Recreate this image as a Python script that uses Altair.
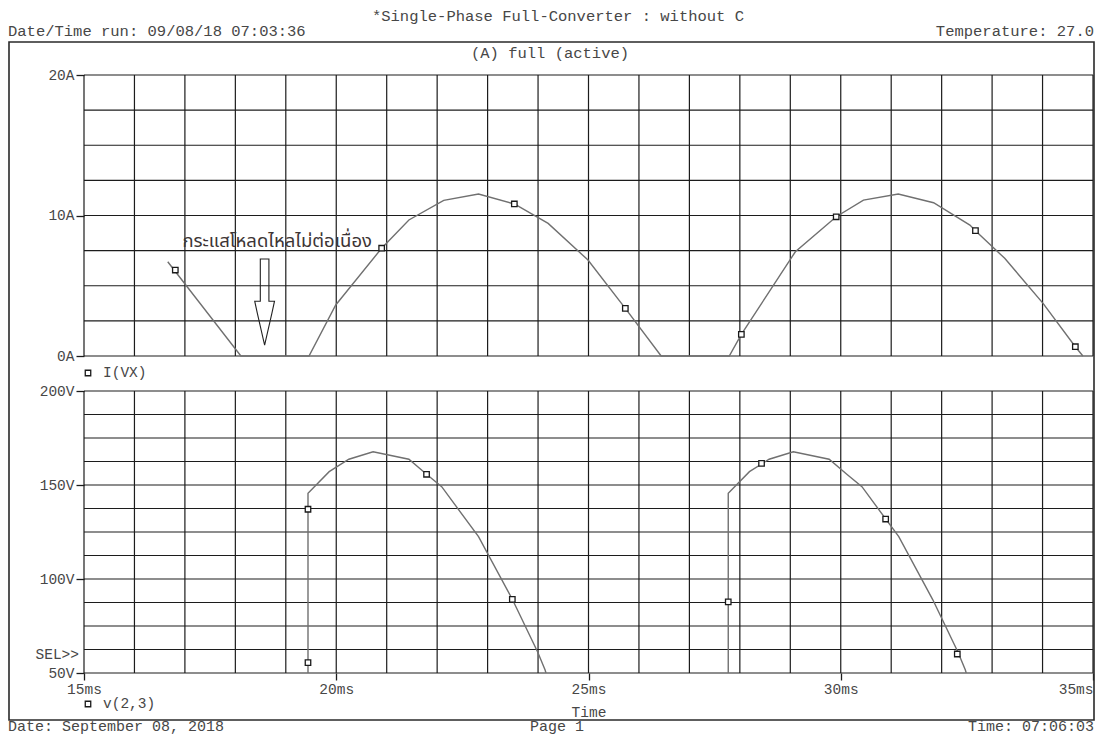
import altair as alt
import pandas as pd

# ---------------- data ----------------
# I(VX) trace, ms / A
cur_t = [16.66, 18.11, 19.46, 19.99, 20.90, 21.44, 22.13, 22.82, 23.53, 24.20, 24.99,
         25.73, 26.44, 27.79, 28.03, 29.10, 29.91, 30.45, 31.14, 31.84, 32.56, 32.67,
         33.25, 34.01, 34.65, 34.80]
cur_i = [6.71, 0.0, 0.0, 3.63, 7.67, 9.68, 11.08, 11.53, 10.82, 9.44, 6.83,
         3.39, 0.0, 0.0, 1.54, 7.42, 9.91, 11.10, 11.53, 10.91, 9.32, 8.92,
         6.95, 3.75, 0.66, 0.0]
cur_mk_t = [16.81, 20.90, 23.53, 25.73, 28.03, 29.91, 32.67, 34.65]
cur_mk_i = [6.12, 7.67, 10.82, 3.39, 1.54, 9.91, 8.92, 0.66]

# v(2,3) trace, ms / V (two visible pieces)
v_seg = [1] * 13 + [2] * 13
v_t = [19.44, 19.44, 19.86, 20.25, 20.73, 21.44, 21.79, 22.09, 22.82, 23.49, 23.99, 24.14, 24.20,
       27.77, 27.77, 28.19, 28.58, 29.06, 29.77, 30.12, 30.42, 31.15, 31.82, 32.32, 32.47, 32.53]
v_v = [40.0, 145.6, 157.1, 163.7, 167.7, 163.7, 155.7, 149.1, 122.5, 89.2, 61.3, 51.6, 46.0,
       40.0, 145.6, 157.1, 163.7, 167.7, 163.7, 155.7, 149.1, 122.5, 89.2, 61.3, 51.6, 46.0]
v_mk_t = [19.44, 19.44, 21.79, 23.49, 27.77, 28.43, 30.89, 32.31]
v_mk_v = [55.5, 137.1, 155.7, 89.2, 87.8, 161.5, 131.9, 60.1]

# grid / tick values
time_grid = [15, 16, 17, 18, 19, 20, 21, 22, 23, 24, 25, 26, 27, 28, 29, 30, 31, 32, 33, 34, 35]
time_labels = [15, 20, 25, 30, 35]
cur_grid = [0, 2.5, 5, 7.5, 10, 12.5, 15, 17.5, 20]
cur_labels = [0, 10, 20]
volt_grid = [50, 62.5, 75, 87.5, 100, 112.5, 125, 137.5, 150, 162.5, 175, 187.5, 200]
volt_labels = [50, 100, 150, 200]

# annotation (ms / A)
note_text = ["กระแสโหลดไหลไม่ต่อเนื่อง"]
note_t = [18.83]
note_i = [8.19]
arrow_t = [18.58]
arrow_i = [3.84]

# texts
title_text = "*Single-Phase Full-Converter : without C"
run_text = "Date/Time run: 09/08/18 07:03:36"
temp_text = "Temperature: 27.0"
sub_text = "(A) full (active)"
xtitle_text = "Time"
legend_cur = "I(VX)"
legend_volt = "v(2,3)"
sel_text = "SEL>>"
foot_left = "Date: September 08, 2018"
foot_mid = "Page 1"
foot_right = "Time: 07:06:03"

# ---------------- styling ----------------
W, H = 1009, 598
FONT = "Liberation Mono"
TXT = "#474747"
GRID = "#1c1c1c"
TRACE = "#707070"

df_cur = pd.DataFrame({"t": cur_t, "i": cur_i, "k": list(range(len(cur_t)))})
df_cur_mk = pd.DataFrame({"t": cur_mk_t, "i": cur_mk_i})
df_v = pd.DataFrame({"t": v_t, "v": v_v, "seg": v_seg, "k": list(range(len(v_t)))})
df_v_mk = pd.DataFrame({"t": v_mk_t, "v": v_mk_v})

df_tg_cur = pd.DataFrame({"t": time_grid, "lo": [cur_grid[0]] * len(time_grid), "hi": [cur_grid[-1]] * len(time_grid)})
df_tg_v = pd.DataFrame({"t": time_grid, "lo": [volt_grid[0]] * len(time_grid), "hi": [volt_grid[-1]] * len(time_grid)})
df_cg = pd.DataFrame({"y": cur_grid, "a": [time_grid[0]] * len(cur_grid), "b": [time_grid[-1]] * len(cur_grid)})
df_vg = pd.DataFrame({"y": volt_grid, "a": [time_grid[0]] * len(volt_grid), "b": [time_grid[-1]] * len(volt_grid)})
df_note = pd.DataFrame({"t": note_t, "i": note_i, "s": note_text})
df_arrow = pd.DataFrame({"t": arrow_t, "i": arrow_i})
one = pd.DataFrame({"z": [0]})

x_scale = alt.Scale(domain=[time_grid[0], time_grid[-1]], nice=False, zero=False)
yc_scale = alt.Scale(domain=[cur_grid[0], cur_grid[-1]], range=[281, 0], nice=False, zero=False)
yv_scale = alt.Scale(domain=[volt_grid[0], volt_grid[-1]], range=[598, 316], nice=False, zero=False)

x_axis = alt.Axis(values=time_labels, labelExpr="datum.value + 'ms'", grid=False, domain=False,
                  tickSize=7, tickColor=GRID, tickWidth=1.3, labelFont=FONT, labelFontSize=14.5,
                  labelColor=TXT, labelPadding=2, title=None, orient="bottom", labelOverlap=False,
                  labelAlign={"condition": {"test": "datum.value >= 35", "value": "right"}, "value": "center"})
yc_axis = alt.Axis(values=cur_labels, labelExpr="datum.value + 'A'", grid=False, domain=False,
                   tickSize=8, tickColor=GRID, tickWidth=1.3, labelFont=FONT, labelFontSize=14.5,
                   labelColor=TXT, labelPadding=2, title=None, orient="left", labelOverlap=False)
yv_axis = alt.Axis(values=volt_labels, labelExpr="datum.value + 'V'", grid=False, domain=False,
                   tickSize=8, tickColor=GRID, tickWidth=1.3, labelFont=FONT, labelFontSize=14.5,
                   labelColor=TXT, labelPadding=2, title=None, orient="left", labelOverlap=False)

X = lambda f: alt.X(f, type="quantitative", scale=x_scale, axis=x_axis)
YC = lambda f: alt.Y(f, type="quantitative", scale=yc_scale, axis=yc_axis)
YV = lambda f: alt.Y(f, type="quantitative", scale=yv_scale, axis=yv_axis)

# ---------------- current panel ----------------
c_vgrid = alt.Chart(df_tg_cur).mark_rule(color=GRID, strokeWidth=1.2).encode(
    x=X("t"), y=YC("lo"), y2="hi")
c_hgrid = alt.Chart(df_cg).mark_rule(color=GRID, strokeWidth=1.2).encode(
    x=X("a"), x2="b", y=YC("y"))
c_line = alt.Chart(df_cur).mark_line(color=TRACE, strokeWidth=1.4, clip=True).encode(
    x=X("t"), y=YC("i"), order="k:Q")
c_mk = alt.Chart(df_cur_mk).mark_point(shape="square", size=30, filled=True, fill="white",
                                       stroke="#1a1a1a", strokeWidth=1.3, opacity=1).encode(
    x=X("t"), y=YC("i"))
c_note = alt.Chart(df_note).mark_text(font="Noto Sans Thai, Tahoma, DejaVu Sans, sans-serif",
                                      fontSize=18.5, color="#3d3535", align="center",
                                      baseline="middle").encode(x=X("t"), y=YC("i"), text="s:N")
arrow_path = ("M -0.1 -1 L 0.1 -1 L 0.1 -0.02 L 0.23 -0.02 L 0.17 0.26 L 0 1 "
              "L -0.17 0.26 L -0.23 -0.02 L -0.1 -0.02 Z")
c_arrow = alt.Chart(df_arrow).mark_point(shape=arrow_path, size=7396, filled=False,
                                         stroke="#222222", strokeWidth=1.1, opacity=1).encode(
    x=X("t"), y=YC("i"))
current_panel = alt.layer(c_vgrid, c_hgrid, c_line, c_mk, c_note, c_arrow)

# ---------------- voltage panel ----------------
v_vgrid = alt.Chart(df_tg_v).mark_rule(color=GRID, strokeWidth=1.2).encode(
    x=X("t"), y=YV("lo"), y2="hi")
v_hgrid = alt.Chart(df_vg).mark_rule(color=GRID, strokeWidth=1.2).encode(
    x=X("a"), x2="b", y=YV("y"))
v_line = alt.Chart(df_v).mark_line(color=TRACE, strokeWidth=1.4, clip=True).encode(
    x=X("t"), y=YV("v"), detail="seg:N", order="k:Q")
v_mk = alt.Chart(df_v_mk).mark_point(shape="square", size=30, filled=True, fill="white",
                                     stroke="#1a1a1a", strokeWidth=1.3, opacity=1).encode(
    x=X("t"), y=YV("v"))
volt_panel = alt.layer(v_vgrid, v_hgrid, v_line, v_mk)


# ---------------- page texts (pixel positions relative to plot origin) ----------------
def txt(s, x, y, align="left", size=15.5, color=TXT):
    return alt.Chart(one).mark_text(text=s, font=FONT, fontSize=size, color=color,
                                    align=align, baseline="middle").encode(
        x=alt.value(x), y=alt.value(y))


def sq(x, y):
    return alt.Chart(one).mark_point(shape="square", size=30, filled=True, fill="white",
                                     stroke="#1a1a1a", strokeWidth=1.3, opacity=1).encode(
        x=alt.value(x), y=alt.value(y))


frame = alt.Chart(one).mark_rect(fillOpacity=0, stroke="#2a2a2a", strokeWidth=1.6).encode(
    x=alt.value(-75), x2=alt.value(1010), y=alt.value(-33), y2=alt.value(645))

texts = [
    txt(title_text, 474, -59, "center"),
    txt(run_text, -76, -44, "left"),
    txt(temp_text, 1010, -44, "right"),
    txt(sub_text, 466, -22, "center"),
    txt(legend_cur, 19, 298, "left", 14.5),
    txt(legend_volt, 19, 629, "left", 14.5),
    txt(sel_text, -5, 580, "right", 14.5),
    txt(xtitle_text, 505, 638, "center", 14.5),
    txt(foot_left, -76, 651, "left", 15),
    txt(foot_mid, 473, 651, "center", 15),
    txt(foot_right, 1010, 651, "right", 15),
]

chart = alt.layer(
    current_panel, volt_panel, frame, sq(4, 298), sq(4, 629), *texts
).resolve_scale(y="independent").properties(
    width=W, height=H,
    autosize=alt.AutoSizeParams(type="none"),
    padding={"left": 76, "top": 67, "right": 2, "bottom": 63},
    background="white",
).configure_view(stroke=None)

chart.save("out.html", embed_options={"renderer": "svg", "actions": False})
